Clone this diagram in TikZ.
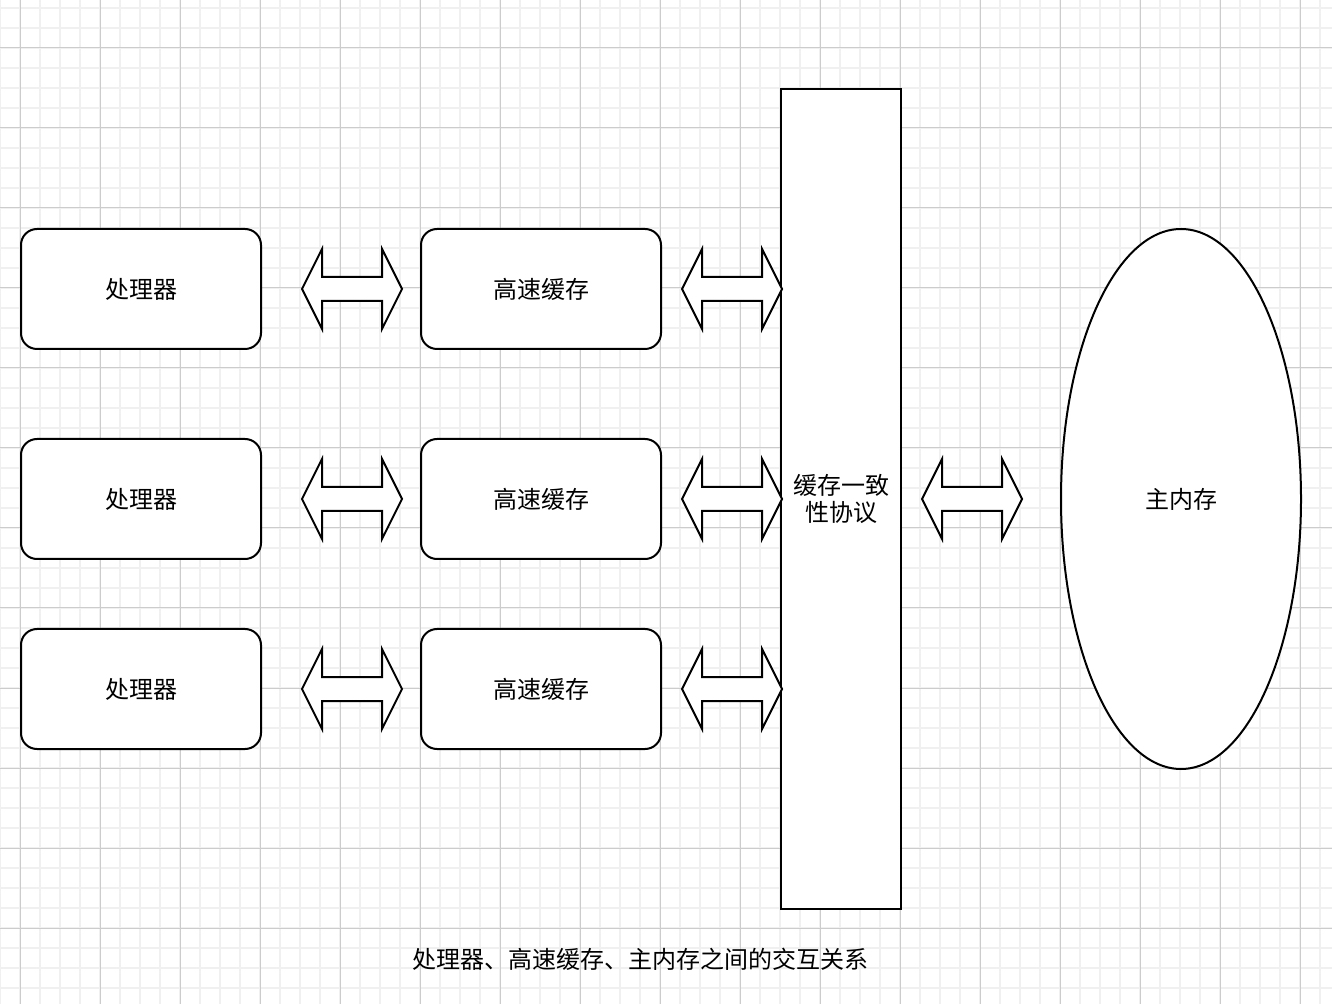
\documentclass[tikz,border=0pt]{standalone}
\usepackage{fontspec}
\setmainfont{Noto Sans CJK SC}
\usetikzlibrary{shapes.geometric,calc}
\tikzset{
  minorgrid/.style={draw=black!6, line width=1pt},
  majorgrid/.style={draw=black!20, line width=0.5pt},
  lbl/.style={font=\fontsize{12pt}{13.5pt}\selectfont, align=center, text=black},
  roundbox/.style={lbl, draw=black, line width=1pt, fill=white, rounded corners=8pt, minimum width=120pt, minimum height=60pt, inner sep=0pt},
  tallbox/.style={lbl, draw=black, line width=1pt, fill=white, minimum width=60pt, minimum height=410pt, inner sep=0pt},
  memshape/.style={lbl, ellipse, draw=black, line width=1pt, fill=white, minimum width=120pt, minimum height=270pt, inner sep=0pt},
  arrowshape/.style={draw=black, line width=1pt, fill=white, line join=miter},
  darrow/.pic={\draw[arrowshape] (-50,0) -- (-30,-40) -- (-30,-12) -- (30,-12) -- (30,-40) -- (50,0) -- (30,40) -- (30,12) -- (-30,12) -- (-30,40) -- cycle;}
}
\begin{document}
\begin{tikzpicture}[x=0.5pt, y=-0.5pt]
\useasboundingbox (0,0) rectangle (1332,1004);
\fill[white] (0,0) rectangle (1332,1004);
% grid
\foreach \gx in {0,20,...,1330} \draw[minorgrid] (\gx,0) -- (\gx,1004);
\foreach \gy in {8,28,...,1004} \draw[minorgrid] (0,\gy) -- (1332,\gy);
\foreach \gx in {20,100,...,1330} \draw[majorgrid] (\gx,0) -- (\gx,1004);
\foreach \gy in {48,128,...,1004} \draw[majorgrid] (0,\gy) -- (1332,\gy);
\begin{scope}[shift={(1,1)}]
% processors
\node[roundbox] (p1) at (140,288) {处理器};
\node[roundbox] (p2) at (140,498) {处理器};
\node[roundbox] (p3) at (140,688) {处理器};
% caches
\node[roundbox] (c1) at (540,288) {高速缓存};
\node[roundbox] (c2) at (540,498) {高速缓存};
\node[roundbox] (c3) at (540,688) {高速缓存};
% coherence protocol
\node[tallbox] (proto) at (840,498) {缓存一致\\性协议};
% main memory
\node[memshape] (mem) at (1180,498) {主内存};
% double arrows
\pic at ($(p1.east)+(90,0)$) {darrow};
\pic at ($(p2.east)+(90,0)$) {darrow};
\pic at ($(p3.east)+(90,0)$) {darrow};
\pic at ($(c1.east)+(70,0)$) {darrow};
\pic at ($(c2.east)+(70,0)$) {darrow};
\pic at ($(c3.east)+(70,0)$) {darrow};
\pic at ($(proto.east)+(70,0)$) {darrow};
\end{scope}
% caption
\node[lbl] (cap) at (640,959) {处理器、高速缓存、主内存之间的交互关系};
\end{tikzpicture}
\end{document}
